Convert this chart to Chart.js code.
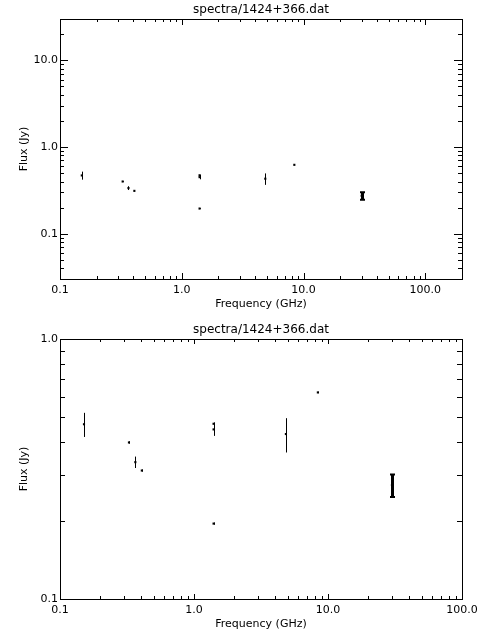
<!DOCTYPE html>
<html>
<head>
<meta charset="utf-8">
<script src="https://cdn.jsdelivr.net/npm/chart.js@4.4.1/dist/chart.umd.min.js"></script>
<style>
  html, body { margin: 0; padding: 0; background: #fff; }
  canvas { display: block; }
</style>
</head>
<body>
<canvas id="top" width="480" height="320"></canvas>
<canvas id="bottom" width="480" height="320"></canvas>
<script>
// Spectrum of 1424+366
const freqs = [0.151, 0.327, 0.365, 0.408, 1.40, 1.40, 1.40, 4.85, 8.40, 30.0];
const fluxes = [0.470, 0.400, 0.336, 0.312, 0.472, 0.449, 0.195, 0.431, 0.623, 0.274];
const fluxErr = [0.050, 0.004, 0.017, 0.003, 0.006, 0.025, 0.002, 0.065, 0.004, 0.027];

const titleText = 'spectra/1424+366.dat';
const xTitle = 'Frequency (GHz)';
const yTitle = 'Flux (Jy)';

const topXLabels = [0.1, 1, 10, 100];
const topYLabels = [0.1, 1, 10];
const bottomXLabels = [0.1, 1, 10, 100];
const bottomYLabels = [0.1, 1];

// 30 GHz bar is drawn heavier, with caps
const barWidths = [1, 1, 1, 1, 1, 1, 1, 1, 1, 3];

const FONT = 'DejaVu Sans';

// log ticks (major at decades, minor at 2..9) on all four sides, pointing in
function logTicks(min, max) {
  const out = [];
  for (let e = Math.floor(Math.log10(min)); e <= Math.ceil(Math.log10(max)); e++) {
    for (let m = 1; m <= 9; m++) {
      const v = m * Math.pow(10, e);
      if (v >= min * 0.9999 && v <= max * 1.0001) out.push({ v, major: m === 1 });
    }
  }
  return out;
}

const idlFrame = {
  id: 'idlFrame',
  afterDatasetsDraw(chart, args, opts) {
    const { ctx, chartArea: { left, right, top, bottom } } = chart;
    const xs = chart.scales.x;
    const ys = chart.scales.y;
    ctx.save();
    ctx.strokeStyle = '#000';
    ctx.lineWidth = 1;
    ctx.strokeRect(left + 0.5, top + 0.5, right - left, bottom - top);

    ctx.beginPath();
    logTicks(xs.min, xs.max).forEach(t => {
      const px = Math.round(xs.getPixelForValue(t.v)) + 0.5;
      const len = t.major ? opts.xMajor : opts.xMinor;
      ctx.moveTo(px, bottom);
      ctx.lineTo(px, bottom - len);
      ctx.moveTo(px, top);
      ctx.lineTo(px, top + len);
    });
    logTicks(ys.min, ys.max).forEach(t => {
      const py = Math.round(ys.getPixelForValue(t.v)) + 0.5;
      const len = t.major ? opts.yMajor : opts.yMinor;
      ctx.moveTo(left, py);
      ctx.lineTo(left + len, py);
      ctx.moveTo(right, py);
      ctx.lineTo(right - len, py);
    });
    ctx.stroke();

    // error bars
    const ds = chart.data.datasets[0];
    ds.data.forEach((p, i) => {
      const err = ds.errors[i];
      const px = Math.round(xs.getPixelForValue(p.x)) + 0.5;
      const y1 = ys.getPixelForValue(p.y + err);
      const y2 = ys.getPixelForValue(p.y - err);
      ctx.lineWidth = barWidths[i];
      ctx.beginPath();
      ctx.moveTo(px, y1);
      ctx.lineTo(px, y2);
      ctx.stroke();
      if (barWidths[i] > 1) {
        ctx.lineWidth = 2;
        ctx.beginPath();
        ctx.moveTo(px - 2.5, y1);
        ctx.lineTo(px + 2.5, y1);
        ctx.moveTo(px - 2.5, y2);
        ctx.lineTo(px + 2.5, y2);
        ctx.stroke();
      }
    });
    ctx.restore();
  }
};

function makeChart(id, xMin, xMax, yMin, yMax, xLabels, yLabels, tickLens) {
  return new Chart(document.getElementById(id), {
    type: 'scatter',
    data: {
      datasets: [{
        data: freqs.map((f, i) => ({ x: f, y: fluxes[i] })),
        errors: fluxErr,
        pointStyle: 'rect',
        pointRadius: 1.5,
        borderWidth: 0,
        backgroundColor: '#000',
        borderColor: '#000'
      }]
    },
    options: {
      responsive: false,
      animation: false,
      devicePixelRatio: 1,
      layout: { padding: { left: 0, right: 18, top: 0, bottom: 0 } },
      plugins: {
        legend: { display: false },
        tooltip: { enabled: false },
        title: {
          display: true,
          text: titleText,
          fullSize: false,
          color: '#000',
          font: { family: FONT, size: 12, weight: 'normal', lineHeight: '14px' },
          padding: { top: 3, bottom: 2 }
        },
        idlFrame: tickLens
      },
      scales: {
        x: {
          type: 'logarithmic',
          min: xMin,
          max: xMax,
          afterFit(scale) {
            scale.height = 41;
            scale.paddingLeft = 0;
            scale.paddingRight = 0;
          },
          afterBuildTicks(scale) { scale.ticks = xLabels.map(v => ({ value: v })); },
          grid: { display: false, drawTicks: false },
          border: { display: false },
          ticks: {
            autoSkip: false,
            maxRotation: 0,
            padding: 5,
            color: '#000',
            font: { family: FONT, size: 11 },
            callback: v => Number(v).toFixed(1)
          },
          title: {
            display: true,
            text: xTitle,
            color: '#000',
            font: { family: FONT, size: 11, lineHeight: '13px' },
            padding: { top: 0, bottom: 9 }
          }
        },
        y: {
          type: 'logarithmic',
          min: yMin,
          max: yMax,
          afterFit(scale) {
            scale.width = 60;
            scale.paddingTop = 0;
            scale.paddingBottom = 0;
          },
          afterBuildTicks(scale) { scale.ticks = yLabels.map(v => ({ value: v })); },
          grid: { display: false, drawTicks: false },
          border: { display: false },
          ticks: {
            autoSkip: false,
            padding: 2,
            color: '#000',
            font: { family: FONT, size: 11 },
            callback: v => Number(v).toFixed(1)
          },
          title: {
            display: true,
            text: yTitle,
            color: '#000',
            font: { family: FONT, size: 11, lineHeight: '13px' },
            padding: { top: 18, bottom: 0 }
          }
        }
      }
    },
    plugins: [idlFrame]
  });
}

makeChart('top', 0.1, 200, 0.03, 30, topXLabels, topYLabels,
  { xMajor: 6, xMinor: 3, yMajor: 8, yMinor: 4 });
makeChart('bottom', 0.1, 100, 0.1, 1.0, bottomXLabels, bottomYLabels,
  { xMajor: 5, xMinor: 3, yMajor: 5, yMinor: 5 });
</script>
</body>
</html>
